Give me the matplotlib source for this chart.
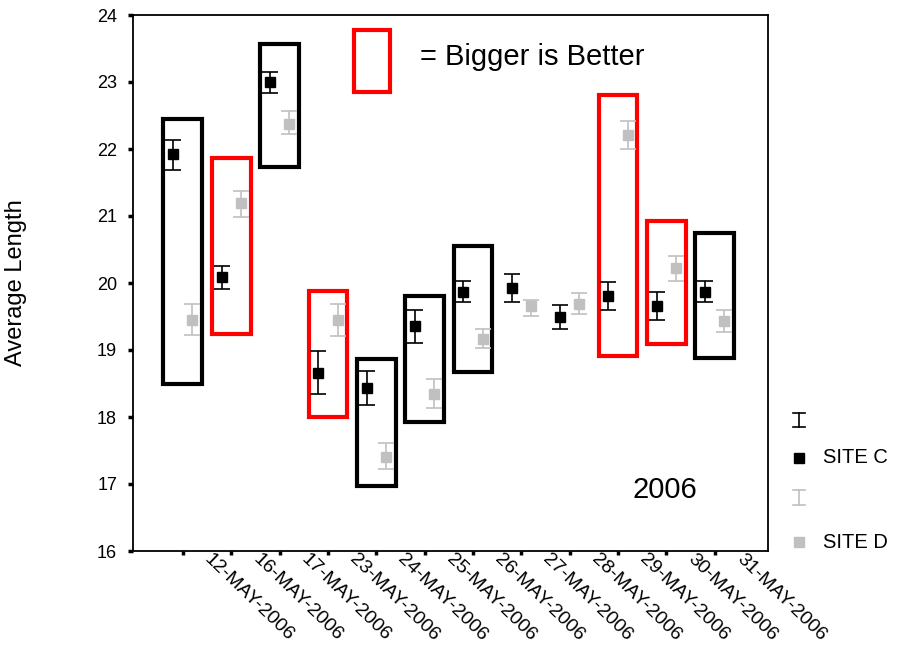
import matplotlib
matplotlib.use("Agg")
import matplotlib.pyplot as plt
import numpy as np
from matplotlib.patches import Rectangle
from matplotlib.lines import Line2D
from matplotlib.transforms import ScaledTranslation, blended_transform_factory

plt.rcParams['font.family'] = ['Liberation Sans', 'DejaVu Sans']

dates = ["12-MAY-2006", "16-MAY-2006", "17-MAY-2006", "23-MAY-2006", "24-MAY-2006",
         "25-MAY-2006", "26-MAY-2006", "27-MAY-2006", "28-MAY-2006", "29-MAY-2006",
         "30-MAY-2006", "31-MAY-2006"]

site_c = [21.92, 20.09, 23.00, 18.65, 18.44, 19.36, 19.87, 19.93, 19.49, 19.80, 19.66, 19.87]
site_c_hi = [22.14, 20.25, 23.15, 18.99, 18.68, 19.60, 20.03, 20.13, 19.67, 20.01, 19.86, 20.03]
site_c_lo = [21.68, 19.91, 22.84, 18.35, 18.18, 19.10, 19.71, 19.71, 19.31, 19.60, 19.45, 19.71]

site_d = [19.45, 21.19, 22.38, 19.45, 17.41, 18.35, 19.16, 19.65, 19.69, 22.21, 20.23, 19.43]
site_d_hi = [19.69, 21.37, 22.56, 19.69, 17.61, 18.57, 19.31, 19.75, 19.85, 22.42, 20.41, 19.60]
site_d_lo = [19.22, 20.99, 22.22, 19.21, 17.23, 18.14, 19.03, 19.51, 19.53, 22.00, 20.03, 19.27]

box_low = [18.50, 19.24, 21.73, 18.00, 16.97, 17.93, 18.67, None, None, 18.91, 19.09, 18.88]
box_high = [22.45, 21.87, 23.57, 19.88, 18.86, 19.81, 20.55, None, None, 22.80, 20.93, 20.75]
box_color = ["black", "red", "black", "red", "black", "black", "black", None, None, "red", "red", "black"]

W, H = 901, 652
fig = plt.figure(figsize=(W / 100, H / 100), dpi=100)
ax = fig.add_axes([133 / W, 1 - 551 / H, (768 - 133) / W, (551 - 15) / H])

x = np.arange(len(dates))
gray = "#c0c0c0"

for i, (lo, hi, col) in enumerate(zip(box_low, box_high, box_color)):
    if col is None:
        continue
    ax.add_patch(Rectangle((i - 0.4, lo), 0.8, hi - lo, fill=False, edgecolor=col,
                           linewidth=3.0, joinstyle='miter', zorder=2))

c = np.array(site_c)
d = np.array(site_d)
ax.errorbar(x - 0.2, c, yerr=[c - np.array(site_c_lo), np.array(site_c_hi) - c], fmt='s',
            color='black', ms=7, capsize=5.5, elinewidth=1.2, capthick=1.2, zorder=3)
ax.errorbar(x + 0.2, d, yerr=[d - np.array(site_d_lo), np.array(site_d_hi) - d], fmt='s',
            color=gray, ms=7, capsize=5.5, elinewidth=1.2, capthick=1.2, zorder=3)

ax.set_xlim(-1.03, 12.1)
ax.set_ylim(16, 24)
ax.set_yticks(range(16, 25))
ax.set_xticks(x)
ax.set_xticklabels([""] * len(dates))
lab_tr = blended_transform_factory(ax.transData, ax.transAxes) + \
    ScaledTranslation(0.30, 0.0, fig.dpi_scale_trans)
for i, lab in enumerate(dates):
    ax.text(i, 0, lab, transform=lab_tr, rotation=-44, rotation_mode='anchor',
            ha='left', va='top', fontsize=14, clip_on=False)
ax.tick_params(axis='x', direction='out', length=3, width=2.5, pad=0)
ax.tick_params(axis='y', direction='out', length=3.5, width=2.5, pad=8, labelsize=13)
for s in ax.spines.values():
    s.set_linewidth(1.3)

fig.text(16.5 / W, 1 - 282.5 / H, "Average Length", rotation=90, ha='center', va='center',
         fontsize=17)

# "Bigger is Better" key
ax.add_patch(Rectangle((0.348, 0.856), 0.057, 0.116, transform=ax.transAxes, fill=False,
                       edgecolor='red', linewidth=3.0, joinstyle='miter'))
ax.text(0.452, 0.922, "= Bigger is Better", transform=ax.transAxes, fontsize=21,
        ha='left', va='center')
ax.text(0.786, 0.114, "2006", transform=ax.transAxes, fontsize=21, ha='left', va='center')

# legend (manual, figure coordinates)
def fx(px):
    return px / W

def fy(py):
    return 1 - py / H

for (ytop, ybot, col) in [(413, 427, 'black'), (490, 505, gray)]:
    fig.add_artist(Line2D([fx(799), fx(799)], [fy(ytop), fy(ybot)], color=col, lw=1.2,
                          transform=fig.transFigure))
    for yy in (ytop, ybot):
        fig.add_artist(Line2D([fx(793), fx(805)], [fy(yy), fy(yy)], color=col, lw=1.2,
                              transform=fig.transFigure))
for (yy, col, lab) in [(457.5, 'black', "SITE C"), (542, gray, "SITE D")]:
    fig.add_artist(Line2D([fx(799)], [fy(yy)], marker='s', ms=6.5, color=col, lw=0,
                          transform=fig.transFigure))
    fig.text(fx(823), fy(yy), lab, fontsize=14.5, ha='left', va='center')

fig.savefig("out.png", dpi=100)
